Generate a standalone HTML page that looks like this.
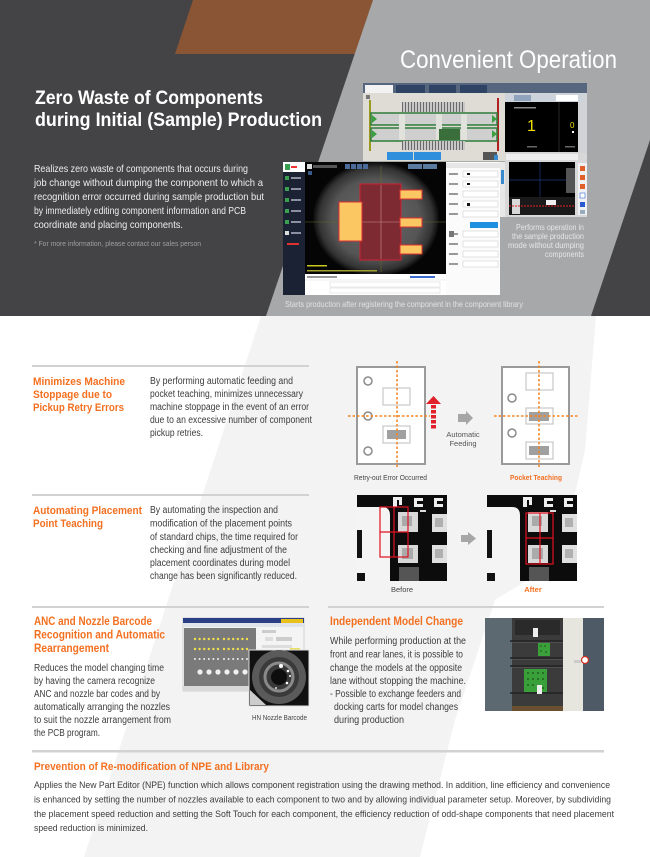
<!DOCTYPE html>
<html><head><meta charset="utf-8"><style>
html,body{margin:0;padding:0;background:#fff;}
svg{display:block;}
text{font-family:"Liberation Sans","Noto Sans CJK KR",sans-serif;}
</style></head><body>
<svg width="650" height="857" viewBox="0 0 650 857" xmlns="http://www.w3.org/2000/svg">
<defs>
 <radialGradient id="cam" cx="0.5" cy="0.5" r="0.5">
  <stop offset="0" stop-color="#6a6a6a"/><stop offset="0.7" stop-color="#555"/><stop offset="0.9" stop-color="#333"/><stop offset="1" stop-color="#0a0a0a"/>
 </radialGradient>
 <pattern id="rail" width="3" height="10" patternUnits="userSpaceOnUse"><rect width="3" height="10" fill="#c8c8c8"/><rect x="0" width="1" height="10" fill="#6a6a6a"/></pattern>
</defs>
<rect width="650" height="857" fill="#fff"/>
<polygon points="261,316 596,316 585,450 560,560 495,600 455,720 420,857 84,857" fill="#f3f3f3"/>

<!-- HEADER -->
<rect width="650" height="316" fill="#444345"/>
<polygon points="193,0 373,0 355,54 175,54" fill="#8a5535"/>
<polygon points="373,0 650,0 650,140 591,316 266,316" fill="#a7a8aa"/>

<text x="400" y="68" font-size="25" fill="#fff" textLength="217" lengthAdjust="spacingAndGlyphs">Convenient Operation</text>
<text x="35" y="104" font-size="19.5" font-weight="bold" fill="#fff" textLength="228" lengthAdjust="spacingAndGlyphs">Zero Waste of Components</text>
<text x="35" y="126" font-size="19.5" font-weight="bold" fill="#fff" textLength="287" lengthAdjust="spacingAndGlyphs">during Initial (Sample) Production</text>

<g font-size="10.5" fill="#eeeeee">
<text x="34" y="172" textLength="214" lengthAdjust="spacingAndGlyphs">Realizes zero waste of components that occurs during</text>
<text x="34" y="186" textLength="229" lengthAdjust="spacingAndGlyphs">job change without dumping the component to which a</text>
<text x="34" y="200" textLength="230" lengthAdjust="spacingAndGlyphs">recognition error occurred during sample production but</text>
<text x="34" y="214" textLength="212" lengthAdjust="spacingAndGlyphs">by immediately editing component information and PCB</text>
<text x="34" y="228" textLength="149" lengthAdjust="spacingAndGlyphs">coordinate and placing components.</text>
</g>
<text x="34" y="246" font-size="7.5" fill="#a0a0a0" textLength="167" lengthAdjust="spacingAndGlyphs">* For more information, please contact our sales person</text>

<!-- upper screenshot -->
<g>
<rect x="363" y="83" width="224" height="78" fill="#d2d3d6"/>
<rect x="363" y="83" width="224" height="10" fill="#56667e"/>
<rect x="365" y="85" width="28" height="8" fill="#f2f2f2"/>
<rect x="396" y="85" width="29" height="8" fill="#2f4464"/>
<rect x="429" y="85" width="27" height="8" fill="#2f4464"/>
<rect x="460" y="85" width="27" height="8" fill="#2f4464"/>
<rect x="363" y="93" width="142" height="68" fill="#dedcd4"/>
<rect x="366" y="95" width="4" height="4" fill="#777"/>
<rect x="369" y="100" width="2" height="51" fill="#9a9a20"/>
<rect x="497" y="98" width="2" height="53" fill="#b02020"/>
<rect x="402" y="102" width="63" height="10" fill="url(#rail)"/>
<rect x="371" y="113" width="126" height="12" fill="#cfcfcf" stroke="#2e7d3a" stroke-width="1.5"/>
<rect x="371" y="128" width="126" height="13" fill="#cfcfcf" stroke="#2e7d3a" stroke-width="1.5"/>
<rect x="399" y="114" width="6" height="26" fill="#e2e2dc"/>
<rect x="436" y="114" width="6" height="26" fill="#e2e2dc"/>
<rect x="461" y="114" width="6" height="26" fill="#e2e2dc"/>
<rect x="439" y="129" width="21" height="11" fill="#3a6e3a"/>
<polygon points="372,115 377,119 372,123" fill="#3aa040"/>
<polygon points="372,130 377,134 372,138" fill="#3aa040"/>
<polygon points="492,115 497,119 492,123" fill="#3aa040"/>
<polygon points="492,130 497,134 492,138" fill="#3aa040"/>
<rect x="402" y="141" width="63" height="9" fill="url(#rail)"/>
<rect x="387" y="152" width="26" height="8" fill="#2f8fdc"/>
<rect x="414" y="152" width="27" height="8" fill="#2f8fdc"/>
<rect x="483" y="152" width="14" height="8" fill="#555"/>
<rect x="494" y="155" width="4" height="5" fill="#3a8ad0"/>
<rect x="505" y="94" width="80" height="8" fill="#cdd3db"/>
<rect x="514" y="95" width="17" height="6" fill="#8fa3bd"/>
<rect x="556" y="95" width="22" height="6" fill="#fff"/>
<rect x="505" y="102" width="73" height="50" fill="#000"/>
<line x1="559" y1="102" x2="559" y2="152" stroke="#555" stroke-width="0.5"/>
<rect x="514" y="107" width="22" height="1.5" fill="#888"/>
<text x="527" y="131" font-size="16" fill="#f0e000">1</text>
<text x="570" y="128" font-size="8" fill="#f0e000">0</text>
<rect x="572" y="131" width="2" height="2" fill="#fff"/>
<rect x="527" y="146" width="10" height="1.5" fill="#666"/>
<rect x="565" y="146" width="10" height="1.5" fill="#666"/>
</g>
<!-- right small screenshot -->
<g>
<rect x="505" y="153" width="82" height="64" fill="#d8d8d8"/>
<rect x="506" y="154" width="72" height="6" fill="#eee"/>
<rect x="509" y="162" width="66" height="35" fill="#000"/>
<line x1="540" y1="162" x2="540" y2="197" stroke="#1a3a7a" stroke-width="0.7"/>
<line x1="509" y1="180" x2="575" y2="180" stroke="#1a3a7a" stroke-width="0.7"/>
<rect x="566" y="168" width="9" height="25" fill="#555"/>
<rect x="509" y="197" width="66" height="18" fill="#1a1a1a"/>
<rect x="512" y="199" width="8" height="15" fill="#d8d8d8"/>
<rect x="546" y="200" width="10" height="5" fill="#eee"/>
<line x1="509" y1="206" x2="575" y2="206" stroke="#e02020" stroke-width="1" stroke-dasharray="2,1"/>
<rect x="578" y="163" width="9" height="52" fill="#eef0f3"/>
<rect x="580" y="166" width="5" height="5" fill="#e0602a"/>
<rect x="580" y="175" width="5" height="5" fill="#e0602a"/>
<rect x="580" y="184" width="5" height="5" fill="#e0602a"/>
<rect x="580" y="193" width="5" height="5" fill="#fff" stroke="#3a6ad0" stroke-width="0.6"/>
<rect x="580" y="202" width="5" height="5" fill="#2a5ad0"/>
<rect x="580" y="210" width="5" height="4" fill="#9ab"/>
</g>
<!-- lower screenshot -->
<g>
<rect x="283" y="162" width="217" height="133" fill="#fff"/>
<rect x="500" y="162" width="5" height="55" fill="#e8e8e8"/>
<rect x="501" y="170" width="3" height="14" fill="#3a8ad0"/>
<rect x="283" y="172" width="22" height="123" fill="#1b2233"/>
<rect x="285" y="164" width="5" height="6" fill="#3aa050"/>
<rect x="291" y="166" width="6" height="2" fill="#e33"/>
<g fill="#3aa050">
<rect x="285" y="176" width="4" height="4"/><rect x="285" y="187" width="4" height="4"/><rect x="285" y="198" width="4" height="4"/><rect x="285" y="209" width="4" height="4"/><rect x="285" y="220" width="4" height="4"/><rect x="285" y="231" width="4" height="4" fill="#ddd"/>
</g>
<g fill="#8a90a0">
<rect x="291" y="177" width="10" height="2"/><rect x="291" y="188" width="10" height="2"/><rect x="291" y="199" width="10" height="2"/><rect x="291" y="210" width="10" height="2"/><rect x="291" y="221" width="10" height="2"/><rect x="291" y="232" width="10" height="2"/>
</g>
<rect x="287" y="243" width="12" height="2" fill="#e03030"/>
<rect x="305" y="162" width="141" height="112" fill="#050505"/>
<ellipse cx="376" cy="219" rx="63" ry="57" fill="url(#cam)"/>
<rect x="307" y="164" width="5" height="5" fill="#ddd"/>
<rect x="313" y="165" width="24" height="3" fill="#555"/>
<rect x="345" y="164" width="5" height="5" fill="#4a6a9a"/><rect x="351" y="164" width="5" height="5" fill="#4a6a9a"/><rect x="357" y="164" width="5" height="5" fill="#4a6a9a"/><rect x="363" y="164" width="5" height="5" fill="#4a6a9a"/>
<rect x="408" y="164" width="14" height="5" fill="#5a7aa0"/><rect x="423" y="164" width="14" height="5" fill="#5a7aa0"/>
<rect x="308" y="171" width="4" height="4" fill="#3a5a8a"/>
<line x1="381" y1="166" x2="381" y2="272" stroke="#6a6a30" stroke-width="0.6"/>
<line x1="305" y1="222" x2="446" y2="222" stroke="#6a6a30" stroke-width="0.6"/>
<rect x="360" y="184" width="41" height="76" fill="#7d2a33" stroke="#d02030" stroke-width="1"/>
<line x1="381" y1="185" x2="381" y2="259" stroke="#c89090" stroke-width="0.6"/>
<line x1="361" y1="222" x2="400" y2="222" stroke="#c89090" stroke-width="0.6"/>
<rect x="339" y="202" width="23" height="39" fill="#fbc763" stroke="#e03030" stroke-width="1"/>
<rect x="400" y="190" width="22" height="9" fill="#fbc763" stroke="#e03030" stroke-width="1"/>
<rect x="400" y="218" width="22" height="9" fill="#fbc763" stroke="#e03030" stroke-width="1"/>
<rect x="400" y="245" width="22" height="9" fill="#fbc763" stroke="#e03030" stroke-width="1"/>
<rect x="307" y="265" width="20" height="1.5" fill="#c8c820"/>
<rect x="307" y="270" width="70" height="1.5" fill="#a0a030"/>
<rect x="305" y="274" width="141" height="21" fill="#fff"/>
<rect x="307" y="276" width="30" height="2" fill="#999"/>
<rect x="410" y="276" width="25" height="2" fill="#3a6ad0"/>
<line x1="305" y1="280" x2="446" y2="280" stroke="#ddd" stroke-width="0.6"/>
<rect x="330" y="282" width="110" height="5" fill="none" stroke="#ddd" stroke-width="0.6"/>
<rect x="330" y="288" width="110" height="5" fill="none" stroke="#ddd" stroke-width="0.6"/>
<rect x="446" y="162" width="54" height="133" fill="#fbfbfb"/>
<rect x="446" y="163" width="54" height="5" fill="#e6e6e6"/>
<g fill="#fff" stroke="#d0d0d0" stroke-width="0.6">
<rect x="463" y="171" width="35" height="6"/><rect x="463" y="181" width="35" height="6"/><rect x="463" y="191" width="35" height="6"/><rect x="463" y="201" width="35" height="6"/><rect x="463" y="211" width="35" height="6"/><rect x="463" y="231" width="35" height="6"/><rect x="463" y="241" width="35" height="6"/><rect x="463" y="251" width="35" height="6"/><rect x="463" y="261" width="35" height="6"/>
</g>
<g fill="#999">
<rect x="449" y="173" width="9" height="2"/><rect x="449" y="183" width="9" height="2"/><rect x="449" y="193" width="9" height="2"/><rect x="449" y="203" width="9" height="2"/><rect x="449" y="213" width="9" height="2"/><rect x="449" y="233" width="9" height="2"/><rect x="449" y="243" width="9" height="2"/><rect x="449" y="253" width="9" height="2"/><rect x="449" y="263" width="9" height="2"/>
</g>
<g fill="#111"><rect x="467" y="173" width="3" height="2"/><rect x="467" y="183" width="3" height="2"/><rect x="467" y="203" width="3" height="3"/></g>
<rect x="470" y="222" width="28" height="6" fill="#1e90e0"/>
<rect x="449" y="231" width="5" height="6" fill="#777"/>
</g>
<g font-size="8" fill="#e6e6e6">
<text x="516" y="230" textLength="68" lengthAdjust="spacingAndGlyphs">Performs operation in</text>
<text x="512" y="239" textLength="72" lengthAdjust="spacingAndGlyphs">the sample production</text>
<text x="508" y="248" textLength="76" lengthAdjust="spacingAndGlyphs">mode without dumping</text>
<text x="545" y="257" textLength="39" lengthAdjust="spacingAndGlyphs">components</text>
</g>
<text x="285" y="307" font-size="8.5" fill="#e2e2e2" textLength="238" lengthAdjust="spacingAndGlyphs">Starts production after registering the component in the component library</text>

<!-- RULES -->
<g fill="#d2d2d2">
<rect x="32" y="365" width="277" height="2"/>
<rect x="32" y="494" width="277" height="2"/>
<rect x="32" y="606" width="277" height="2"/>
<rect x="328" y="606" width="276" height="2"/>
<rect x="32" y="750" width="572" height="2.5"/>
</g>

<!-- SECTION 1 -->
<g font-size="11" font-weight="bold" fill="#f37021">
<text x="33" y="385" textLength="92" lengthAdjust="spacingAndGlyphs">Minimizes Machine</text>
<text x="33" y="398" textLength="79" lengthAdjust="spacingAndGlyphs">Stoppage due to</text>
<text x="33" y="411" textLength="91" lengthAdjust="spacingAndGlyphs">Pickup Retry Errors</text>
<text x="33" y="514" textLength="109" lengthAdjust="spacingAndGlyphs">Automating Placement</text>
<text x="33" y="527" textLength="70" lengthAdjust="spacingAndGlyphs">Point Teaching</text>
</g>
<g font-size="9.8" fill="#3c3c3c">
<text x="150" y="384" textLength="143" lengthAdjust="spacingAndGlyphs">By performing automatic feeding and</text>
<text x="150" y="397" textLength="153" lengthAdjust="spacingAndGlyphs">pocket teaching, minimizes unnecessary</text>
<text x="150" y="410" textLength="159" lengthAdjust="spacingAndGlyphs">machine stoppage in the event of an error</text>
<text x="150" y="423" textLength="162" lengthAdjust="spacingAndGlyphs">due to an excessive number of component</text>
<text x="150" y="436" textLength="53" lengthAdjust="spacingAndGlyphs">pickup retries.</text>
<text x="150" y="513" textLength="128" lengthAdjust="spacingAndGlyphs">By automating the inspection and</text>
<text x="150" y="526.5" textLength="142" lengthAdjust="spacingAndGlyphs">modification of the placement points</text>
<text x="150" y="540" textLength="148" lengthAdjust="spacingAndGlyphs">of standard chips, the time required for</text>
<text x="150" y="553" textLength="137" lengthAdjust="spacingAndGlyphs">checking and fine adjustment of the</text>
<text x="150" y="566" textLength="140" lengthAdjust="spacingAndGlyphs">placement coordinates during model</text>
<text x="150" y="579" textLength="147" lengthAdjust="spacingAndGlyphs">change has been significantly reduced.</text>
</g>

<!-- board diagrams -->
<g>
<rect x="357" y="367" width="68" height="97" fill="#fff" stroke="#9a9a9a" stroke-width="2"/>
<circle cx="368" cy="381" r="4" fill="none" stroke="#8a8a8a" stroke-width="1.5"/>
<circle cx="368" cy="416" r="4" fill="none" stroke="#8a8a8a" stroke-width="1.5"/>
<circle cx="368" cy="451" r="4" fill="none" stroke="#8a8a8a" stroke-width="1.5"/>
<rect x="383" y="388" width="27" height="17" fill="#fff" stroke="#c8c8c8" stroke-width="1.2"/>
<rect x="383" y="426" width="27" height="17" fill="#fff" stroke="#c8c8c8" stroke-width="1.2"/>
<rect x="387" y="430" width="19" height="9" fill="#a0a0a0"/>
<line x1="397" y1="361" x2="397" y2="469" stroke="#f58220" stroke-width="1.5" stroke-dasharray="2.5,2"/>
<line x1="348" y1="416" x2="430" y2="416" stroke="#f58220" stroke-width="1.5" stroke-dasharray="2.5,2"/>
<polygon points="433.5,396 441,404 426,404" fill="#e0202a"/>
<line x1="433.5" y1="405" x2="433.5" y2="429" stroke="#e0202a" stroke-width="5" stroke-dasharray="3.5,1.5"/>
<polygon points="458,414 466,414 466,411 473,418 466,425 466,422 458,422" fill="#a6a6a6"/>
<text x="463" y="437" font-size="7.5" fill="#555" text-anchor="middle">Automatic</text>
<text x="463" y="446" font-size="7.5" fill="#555" text-anchor="middle">Feeding</text>

<rect x="502" y="367" width="67" height="97" fill="#fff" stroke="#9a9a9a" stroke-width="2"/>
<circle cx="512" cy="398" r="4" fill="none" stroke="#8a8a8a" stroke-width="1.5"/>
<circle cx="512" cy="433" r="4" fill="none" stroke="#8a8a8a" stroke-width="1.5"/>
<rect x="526" y="373" width="27" height="17" fill="#fff" stroke="#c8c8c8" stroke-width="1.2"/>
<rect x="526" y="408" width="27" height="16" fill="#fff" stroke="#c8c8c8" stroke-width="1.2"/>
<rect x="529" y="412" width="20" height="9" fill="#a0a0a0"/>
<rect x="526" y="442" width="27" height="17" fill="#fff" stroke="#c8c8c8" stroke-width="1.2"/>
<rect x="529" y="446" width="20" height="9" fill="#a0a0a0"/>
<line x1="539" y1="361" x2="539" y2="469" stroke="#f58220" stroke-width="1.5" stroke-dasharray="2.5,2"/>
<line x1="494" y1="416" x2="579" y2="416" stroke="#f58220" stroke-width="1.5" stroke-dasharray="2.5,2"/>
<text x="354" y="480" font-size="7.5" fill="#444" textLength="73" lengthAdjust="spacingAndGlyphs">Retry-out Error Occurred</text>
<text x="510" y="480" font-size="7.5" font-weight="bold" fill="#f37021" textLength="52" lengthAdjust="spacingAndGlyphs">Pocket Teaching</text>
</g>

<!-- photos -->
<g id="ph1">
<rect x="357" y="495" width="90" height="86" fill="#0c0c0c"/>
<path d="M357,507 H382 Q390,507 390,515 V581 H357 Z" fill="#f4f4f4"/>
<rect x="357" y="530" width="5" height="28" fill="#111"/>
<rect x="357" y="573" width="8" height="8" fill="#111"/>
<rect x="393" y="497" width="4" height="10" fill="#eee"/><rect x="396" y="497" width="6" height="3" fill="#eee"/><rect x="399" y="500" width="3" height="5" fill="#eee"/>
<rect x="414" y="498" width="9" height="3" fill="#eee"/><rect x="414" y="498" width="3" height="9" fill="#eee"/><rect x="414" y="504" width="9" height="3" fill="#eee"/>
<rect x="434" y="498" width="9" height="3" fill="#eee"/><rect x="434" y="498" width="3" height="9" fill="#eee"/><rect x="434" y="504" width="9" height="3" fill="#eee"/>
<rect x="398" y="512" width="20" height="20" fill="#d8d8d8"/><rect x="402" y="516" width="10" height="10" fill="#aaa"/>
<rect x="432" y="514" width="15" height="18" fill="#e0e0e0"/><rect x="435" y="518" width="8" height="9" fill="#b0b0b0"/>
<rect x="398" y="545" width="20" height="18" fill="#d8d8d8"/><rect x="402" y="548" width="11" height="11" fill="#aaa"/>
<rect x="432" y="545" width="15" height="18" fill="#e0e0e0"/><rect x="435" y="549" width="8" height="9" fill="#b0b0b0"/>
<rect x="399" y="567" width="20" height="14" fill="#555"/>
<rect x="420" y="510" width="6" height="2" fill="#ddd"/>
</g>
<use href="#ph1" x="130" y="0"/>
<g fill="none" stroke="#e01020" stroke-width="1.2">
<rect x="380" y="507" width="28" height="50"/>
<line x1="394" y1="507" x2="394" y2="557"/>
<line x1="380" y1="532" x2="408" y2="532"/>
<rect x="526" y="513" width="27" height="51"/>
<line x1="540" y1="513" x2="540" y2="564"/>
<line x1="526" y1="538" x2="553" y2="538"/>
</g>
<polygon points="461,535 468,535 468,532 476,538.5 468,545 468,542 461,542" fill="#a6a6a6"/>
<text x="402" y="592" font-size="7.5" fill="#444" text-anchor="middle">Before</text>
<text x="533" y="592" font-size="7.5" font-weight="bold" fill="#f37021" text-anchor="middle">After</text>

<!-- SECTION 3 ANC -->
<g font-size="11.5" font-weight="bold" fill="#f37021">
<text x="34" y="625" textLength="118" lengthAdjust="spacingAndGlyphs">ANC and Nozzle Barcode</text>
<text x="34" y="638.5" textLength="131" lengthAdjust="spacingAndGlyphs">Recognition and Automatic</text>
<text x="34" y="652" textLength="75" lengthAdjust="spacingAndGlyphs">Rearrangement</text>
<text x="330" y="625" textLength="133" lengthAdjust="spacingAndGlyphs">Independent Model Change</text>
</g>
<g font-size="10" fill="#3c3c3c">
<text x="34" y="671" textLength="130" lengthAdjust="spacingAndGlyphs">Reduces the model changing time</text>
<text x="34" y="684" textLength="121" lengthAdjust="spacingAndGlyphs">by having the camera recognize</text>
<text x="34" y="697" textLength="126" lengthAdjust="spacingAndGlyphs">ANC and nozzle bar codes and by</text>
<text x="34" y="710" textLength="136" lengthAdjust="spacingAndGlyphs">automatically arranging the nozzles</text>
<text x="34" y="723" textLength="137" lengthAdjust="spacingAndGlyphs">to suit the nozzle arrangement from</text>
<text x="34" y="736" textLength="66" lengthAdjust="spacingAndGlyphs">the PCB program.</text>
<text x="330" y="644" textLength="136" lengthAdjust="spacingAndGlyphs">While performing production at the</text>
<text x="330" y="657.5" textLength="133" lengthAdjust="spacingAndGlyphs">front and rear lanes, it is possible to</text>
<text x="330" y="671" textLength="132" lengthAdjust="spacingAndGlyphs">change the models at the opposite</text>
<text x="330" y="684" textLength="136" lengthAdjust="spacingAndGlyphs">lane without stopping the machine.</text>
<text x="330" y="697" textLength="131" lengthAdjust="spacingAndGlyphs">- Possible to exchange feeders and</text>
<text x="334" y="710" textLength="124" lengthAdjust="spacingAndGlyphs">docking carts for model changes</text>
<text x="334" y="723" textLength="70" lengthAdjust="spacingAndGlyphs">during production</text>
</g>

<!-- ANC screenshot -->
<g>
<rect x="183" y="618" width="121" height="73" fill="#f4f4f4" stroke="#bbb" stroke-width="0.6"/>
<rect x="183" y="618" width="121" height="5" fill="#2a3f86"/>
<rect x="281" y="619" width="22" height="4" fill="#e8c21a"/>
<rect x="183" y="623" width="121" height="4" fill="#dfe3ea"/>
<rect x="184" y="628" width="72" height="58" fill="#7a7a7a"/>
<g fill="#f2e24a">
<circle cx="195" cy="639" r="1.2"/><circle cx="199.6" cy="639" r="1.2"/><circle cx="204.2" cy="639" r="1.2"/><circle cx="208.8" cy="639" r="1.2"/><circle cx="213.4" cy="639" r="1.2"/><circle cx="218" cy="639" r="1.2"/>
<circle cx="224" cy="639" r="1.2"/><circle cx="228.6" cy="639" r="1.2"/><circle cx="233.2" cy="639" r="1.2"/><circle cx="237.8" cy="639" r="1.2"/><circle cx="242.4" cy="639" r="1.2"/><circle cx="247" cy="639" r="1.2"/>
<circle cx="195" cy="649" r="1.2"/><circle cx="199.6" cy="649" r="1.2"/><circle cx="204.2" cy="649" r="1.2"/><circle cx="208.8" cy="649" r="1.2"/><circle cx="213.4" cy="649" r="1.2"/><circle cx="218" cy="649" r="1.2"/>
<circle cx="224" cy="649" r="1.2"/><circle cx="228.6" cy="649" r="1.2"/><circle cx="233.2" cy="649" r="1.2"/><circle cx="237.8" cy="649" r="1.2"/><circle cx="242.4" cy="649" r="1.2"/><circle cx="247" cy="649" r="1.2"/>
</g>
<g fill="#f0f0f0">
<circle cx="195" cy="659" r="1"/><circle cx="199.6" cy="659" r="1"/><circle cx="204.2" cy="659" r="1"/><circle cx="208.8" cy="659" r="1"/><circle cx="213.4" cy="659" r="1"/><circle cx="218" cy="659" r="1"/>
<circle cx="224" cy="659" r="1"/><circle cx="228.6" cy="659" r="1"/><circle cx="233.2" cy="659" r="1"/><circle cx="237.8" cy="659" r="1"/><circle cx="242.4" cy="659" r="1"/><circle cx="247" cy="659" r="1"/>
<circle cx="200" cy="672" r="2.6"/><circle cx="209" cy="672" r="2.6"/><circle cx="218" cy="672" r="2.6"/><circle cx="227" cy="672" r="2.6"/><circle cx="236" cy="672" r="2.6"/><circle cx="245" cy="672" r="2.6"/>
</g>
<rect x="262" y="630" width="14" height="3" fill="#ccc"/>
<rect x="265" y="637" width="8" height="4" fill="#ddd"/><rect x="276" y="637" width="16" height="4" fill="#ccc"/>
<rect x="262" y="645" width="30" height="3" fill="#ddd"/>
<rect x="290" y="648" width="10" height="5" fill="#e8e060"/>
<rect x="183" y="686" width="121" height="5" fill="#d8d8d8"/>
</g>
<g>
<rect x="249" y="650" width="60" height="56" fill="#111" stroke="#e0e0e0" stroke-width="1"/>
<circle cx="279" cy="677" r="27" fill="#5a5a5a"/>
<circle cx="279" cy="677" r="20" fill="#3a3a3a"/>
<circle cx="279" cy="677" r="14" fill="none" stroke="#8a8a8a" stroke-width="3"/>
<circle cx="279" cy="677" r="8" fill="#0e0e0e"/>
<circle cx="281" cy="666" r="2" fill="#fff"/>
<circle cx="288" cy="671" r="1.3" fill="#fff"/>
<circle cx="290" cy="676" r="1" fill="#fff"/>
<circle cx="287" cy="683" r="1.3" fill="#fff"/>
<circle cx="276" cy="688" r="1" fill="#ddd"/>
<polygon points="250,690 250,705 266,705" fill="#ccc"/>
</g>
<text x="252" y="720" font-size="7.5" fill="#444" textLength="55" lengthAdjust="spacingAndGlyphs">HN Nozzle Barcode</text>

<!-- Independent photo -->
<g>
<rect x="485" y="618" width="119" height="93" fill="#5d6970"/>
<rect x="512" y="618" width="51" height="93" fill="#3b3b3b"/>
<rect x="563" y="618" width="20" height="93" fill="#e6e6df"/>
<rect x="583" y="618" width="21" height="93" fill="#4e5b66"/>
<rect x="515" y="620" width="45" height="15" fill="#2a2a2a"/>
<rect x="533" y="628" width="5" height="9" fill="#eee"/>
<g stroke="#222" stroke-width="1.5">
<line x1="510" y1="641" x2="563" y2="641"/><line x1="510" y1="658" x2="563" y2="658"/><line x1="510" y1="666" x2="563" y2="666"/><line x1="510" y1="693" x2="563" y2="693"/>
</g>
<g stroke="#666" stroke-width="0.6">
<line x1="512" y1="642.5" x2="563" y2="642.5"/><line x1="512" y1="659.5" x2="563" y2="659.5"/><line x1="512" y1="667.5" x2="563" y2="667.5"/>
</g>
<rect x="538" y="643" width="12" height="13" fill="#3aa03a"/>
<rect x="524" y="669" width="23" height="23" fill="#3aa03a"/>
<g fill="#1a4a1a">
<circle cx="541" cy="646" r="0.8"/><circle cx="545" cy="646" r="0.8"/><circle cx="541" cy="651" r="0.8"/><circle cx="546" cy="652" r="0.8"/>
<circle cx="528" cy="673" r="0.9"/><circle cx="533" cy="673" r="0.9"/><circle cx="538" cy="673" r="0.9"/><circle cx="543" cy="673" r="0.9"/>
<circle cx="528" cy="679" r="0.9"/><circle cx="533" cy="679" r="0.9"/><circle cx="538" cy="679" r="0.9"/><circle cx="543" cy="679" r="0.9"/>
<circle cx="528" cy="685" r="0.9"/><circle cx="533" cy="685" r="0.9"/><circle cx="543" cy="688" r="0.9"/>
</g>
<rect x="537" y="685" width="5" height="9" fill="#eee"/>
<rect x="512" y="706" width="51" height="5" fill="#6a5030"/>
<circle cx="585" cy="660" r="3.5" fill="#fff" stroke="#d03020" stroke-width="1.2"/>
<rect x="574" y="660" width="7" height="3" fill="#ccc"/>
</g>

<!-- BOTTOM -->
<text x="34" y="770" font-size="10.8" font-weight="bold" fill="#f37021" textLength="235" lengthAdjust="spacingAndGlyphs">Prevention of Re-modification of NPE and Library</text>
<g font-size="9.5" fill="#3c3c3c">
<text x="34" y="788" textLength="576" lengthAdjust="spacingAndGlyphs">Applies the New Part Editor (NPE) function which allows component registration using the drawing method. In addition, line efficiency and convenience</text>
<text x="34" y="802.5" textLength="577" lengthAdjust="spacingAndGlyphs">is enhanced by setting the number of nozzles available to each component to two and by allowing individual parameter setup. Moreover, by subdividing</text>
<text x="34" y="817" textLength="580" lengthAdjust="spacingAndGlyphs">the placement speed reduction and setting the Soft Touch for each component, the efficiency reduction of odd-shape components that need placement</text>
<text x="34" y="831" textLength="114" lengthAdjust="spacingAndGlyphs">speed reduction is minimized.</text>
</g>
</svg>
</body></html>
